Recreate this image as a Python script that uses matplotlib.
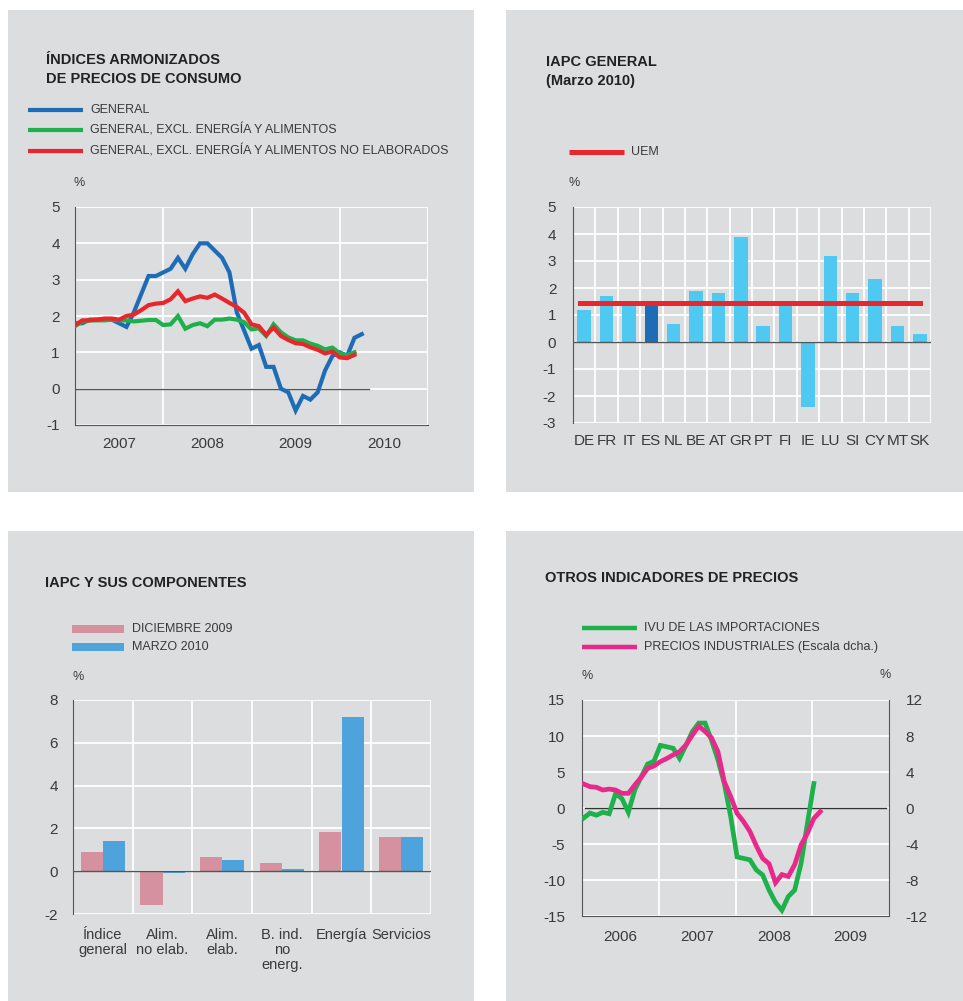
import matplotlib
matplotlib.use('Agg')
import matplotlib.pyplot as plt
from matplotlib.patches import Rectangle
from matplotlib.lines import Line2D
import numpy as np

plt.rcParams['font.family'] = ['Liberation Sans', 'DejaVu Sans']
plt.rcParams['axes.unicode_minus'] = False

# ---------------- DATA ----------------
# Chart 1: HICP (monthly from Jan 2007)
hicp_general = [1.8, 1.8, 1.9, 1.9, 1.9, 1.9, 1.8, 1.7, 2.1, 2.6, 3.1, 3.1,
                3.2, 3.3, 3.6, 3.3, 3.7, 4.0, 4.0, 3.8, 3.6, 3.2, 2.1, 1.6,
                1.1, 1.2, 0.6, 0.6, 0.0, -0.1, -0.6, -0.2, -0.3, -0.1, 0.5, 0.9,
                1.0, 0.9, 1.4, 1.5]
hicp_excl_energy_food = [1.72, 1.85, 1.88, 1.88, 1.88, 1.90, 1.88, 1.88, 1.85, 1.87, 1.89, 1.89,
                         1.75, 1.77, 2.00, 1.65, 1.75, 1.80, 1.72, 1.90, 1.90, 1.93, 1.90, 1.83,
                         1.63, 1.66, 1.45, 1.77, 1.55, 1.41, 1.33, 1.33, 1.24, 1.18, 1.08, 1.13,
                         0.97, 0.92, 1.00]
hicp_excl_energy_unproc = [1.75, 1.88, 1.88, 1.90, 1.93, 1.93, 1.90, 2.00, 2.04, 2.16, 2.30, 2.34,
                           2.36, 2.46, 2.68, 2.41, 2.48, 2.54, 2.50, 2.59, 2.48, 2.36, 2.25, 2.09,
                           1.77, 1.72, 1.48, 1.68, 1.45, 1.34, 1.25, 1.23, 1.14, 1.07, 0.97, 1.02,
                           0.86, 0.84, 0.93]
chart1_start_year = 2007
chart1_years = ['2007', '2008', '2009', '2010']

# Chart 2: HICP by country, March 2010
countries = ['DE', 'FR', 'IT', 'ES', 'NL', 'BE', 'AT', 'GR', 'PT', 'FI', 'IE', 'LU', 'SI', 'CY', 'MT', 'SK']
country_values = [1.2, 1.7, 1.4, 1.4, 0.65, 1.9, 1.8, 3.9, 0.6, 1.4, -2.4, 3.2, 1.8, 2.35, 0.6, 0.3]
uem_value = 1.45
highlight_country = 'ES'

# Chart 3: HICP components
components = ['Índice\ngeneral', 'Alim.\nno elab.', 'Alim.\nelab.', 'B. ind.\nno\nenerg.', 'Energía', 'Servicios']
dic_2009 = [0.92, -1.56, 0.68, 0.39, 1.85, 1.62]
mar_2010 = [1.43, -0.09, 0.54, 0.11, 7.22, 1.59]

# Chart 4: other price indicators (monthly from Jan 2006)
ivu_importaciones = [-1.4, -0.7, -1.0, -0.6, -0.8, 2.0, 1.3, -0.6, 2.5, 4.3, 6.1, 6.5,
                     8.7, 8.5, 8.3, 6.9, 8.7, 10.6, 11.8, 11.8, 9.4, 6.7, 3.4, -1.2,
                     -6.8, -7.0, -7.2, -8.6, -9.3, -11.4, -13.1, -14.2, -12.3, -11.4, -7.7, -2.1,
                     3.4]
precios_industriales = [2.67, 2.37, 2.3, 2.0, 2.1, 2.0, 1.63, 1.63, 2.55, 3.4, 4.4, 4.67,
                        5.15, 5.5, 5.9, 6.26, 7.0, 8.1, 9.1, 8.5, 7.8, 6.26, 2.9, 1.26,
                        -0.6, -1.5, -2.6, -4.2, -5.6, -6.2, -8.3, -7.4, -7.6, -6.3, -4.1, -2.8,
                        -1.15, -0.4]
chart4_start_year = 2006
chart4_years = ['2006', '2007', '2008', '2009']

# ---------------- STYLE ----------------
W, H = 963, 1001
PANEL = '#dcdddf'
TXT = '#3a3a3a'
DARK = '#555555'
BLUE = '#1f6cb6'
GREEN = '#1eb04b'
RED = '#e8262b'
LIGHTBLUE = '#4fc9f2'
PINK = '#d5919f'
MBLUE = '#4ea3dc'
MAGENTA = '#e8288a'

fig = plt.figure(figsize=(W / 100, H / 100), dpi=100, facecolor='white')

bg = fig.add_axes([0, 0, 1, 1], zorder=0)
bg.set_xlim(0, W)
bg.set_ylim(H, 0)
bg.axis('off')

for (x0, y0, x1, y1) in [(8, 10, 474, 492), (506, 10, 963, 492), (8, 531, 474, 1001), (506, 531, 963, 1001)]:
    bg.add_patch(Rectangle((x0, y0), x1 - x0, y1 - y0, facecolor=PANEL, edgecolor='none'))


def px_axes(x0, y0, x1, y1):
    ax = fig.add_axes([x0 / W, 1 - y1 / H, (x1 - x0) / W, (y1 - y0) / H], zorder=1)
    ax.set_facecolor('none')
    ax.set_axisbelow(True)
    for s in ax.spines.values():
        s.set_visible(False)
    return ax


def title(x, y, lines):
    for i, t in enumerate(lines):
        bg.text(x, y + i * 19.5, t, fontsize=10.5, fontweight='bold', color='#222222', va='baseline', ha='left')


def legend_line(x0, x1, y, color, label, lw=3.0):
    bg.add_line(Line2D([x0, x1], [y, y], color=color, lw=lw, solid_capstyle='butt'))
    bg.text(x1 + 7, y, label, fontsize=9, color=TXT, va='center', ha='left')


def legend_box(x0, x1, y, color, label):
    bg.add_patch(Rectangle((x0, y - 4), x1 - x0, 8, facecolor=color, edgecolor='none'))
    bg.text(x1 + 8, y, label, fontsize=9, color=TXT, va='center', ha='left')


def pct(x, y):
    bg.text(x, y, '%', fontsize=9, color=TXT, va='center', ha='center')


GRID = dict(color='white', lw=1.3)

# ---------------- CHART 1 ----------------
title(46, 63.5, ['ÍNDICES ARMONIZADOS', 'DE PRECIOS DE CONSUMO'])
legend_line(28, 83, 110, BLUE, 'GENERAL')
legend_line(28, 83, 130, GREEN, 'GENERAL, EXCL. ENERGÍA Y ALIMENTOS')
legend_line(28, 83, 151, RED, 'GENERAL, EXCL. ENERGÍA Y ALIMENTOS NO ELABORADOS')
pct(79, 183)

ax1 = px_axes(75, 207, 428, 425)
x_gen = chart1_start_year + np.arange(len(hicp_general)) / 12
x_core = chart1_start_year + np.arange(len(hicp_excl_energy_food)) / 12
ax1.plot(x_gen, hicp_general, color=BLUE, lw=3.0, solid_joinstyle='miter', zorder=3)
ax1.plot(x_core, hicp_excl_energy_food, color=GREEN, lw=3.0, solid_joinstyle='miter', zorder=4)
ax1.plot(x_core, hicp_excl_energy_unproc, color=RED, lw=3.0, solid_joinstyle='miter', zorder=5)
ax1.set_xlim(2007, 2011)
ax1.set_ylim(-1, 5)
ax1.set_yticks(range(-1, 6))
ax1.set_xticks([2008, 2009, 2010, 2011])
ax1.set_xticklabels([])
ax1.set_xticks([2007.5 + i for i in range(4)], minor=True)
ax1.set_xticklabels(chart1_years, minor=True)
ax1.tick_params(which='both', length=0, labelsize=11, colors=TXT)
ax1.tick_params(axis='y', pad=11)
ax1.tick_params(axis='x', which='minor', pad=9)
ax1.grid(True, axis='y', **GRID)
ax1.grid(True, axis='x', which='major', **GRID)
ax1.axhline(0, xmin=0, xmax=(2010.33 - 2007) / 4, color=DARK, lw=1.0, zorder=2)
ax1.spines['left'].set_visible(True)
ax1.spines['left'].set_color(DARK)
ax1.spines['bottom'].set_visible(True)
ax1.spines['bottom'].set_color(DARK)

# ---------------- CHART 2 ----------------
title(546, 66, ['IAPC GENERAL', '(Marzo 2010)'])
legend_line(569, 624, 152, RED, 'UEM', lw=3.6)
pct(574, 183)

ax2 = px_axes(573, 207, 931, 423)
xc = np.arange(len(countries))
bar_colors = [BLUE if c == highlight_country else LIGHTBLUE for c in countries]
ax2.bar(xc, country_values, width=0.6, color=bar_colors, zorder=3)
ax2.axhline(0, color=DARK, lw=1.0, zorder=4)
ax2.axhline(uem_value, xmin=0.02, xmax=0.97, color=RED, lw=3.6, zorder=5)
ax2.set_xlim(-0.5, len(countries) - 0.5)
ax2.set_ylim(-3, 5)
ax2.set_yticks(range(-3, 6))
ax2.set_xticks(xc)
ax2.set_xticklabels(countries)
ax2.set_xticks(np.arange(-0.5, len(countries)), minor=True)
ax2.tick_params(which='both', length=0, labelsize=11, colors=TXT)
ax2.tick_params(axis='y', pad=12)
ax2.tick_params(axis='x', pad=8)
ax2.grid(True, axis='y', **GRID)
ax2.grid(True, axis='x', which='minor', **GRID)
ax2.spines['left'].set_visible(True)
ax2.spines['left'].set_color(DARK)

# ---------------- CHART 3 ----------------
title(45, 587, ['IAPC Y SUS COMPONENTES'])
legend_box(72, 124, 629, PINK, 'DICIEMBRE 2009')
legend_box(72, 124, 647, MBLUE, 'MARZO 2010')
pct(78, 677)

ax3 = px_axes(73, 700, 431, 914)
xk = np.arange(len(components))
bw = 0.37
ax3.bar(xk - bw / 2, dic_2009, width=bw, color=PINK, zorder=3)
ax3.bar(xk + bw / 2, mar_2010, width=bw, color=MBLUE, zorder=3)
ax3.axhline(0, color=DARK, lw=1.0, zorder=4)
ax3.set_xlim(-0.5, len(components) - 0.5)
ax3.set_ylim(-2, 8)
ax3.set_yticks(range(-2, 9, 2))
ax3.set_xticks(xk)
ax3.set_xticklabels(components, linespacing=1.1, va='top')
ax3.set_xticks(np.arange(-0.5, len(components)), minor=True)
ax3.tick_params(which='both', length=0, labelsize=10.5, colors=TXT)
ax3.tick_params(axis='y', labelsize=11, pad=11)
ax3.tick_params(axis='x', pad=10)
ax3.grid(True, axis='y', **GRID)
ax3.grid(True, axis='x', which='minor', **GRID)
ax3.spines['left'].set_visible(True)
ax3.spines['left'].set_color(DARK)

# ---------------- CHART 4 ----------------
title(545, 582, ['OTROS INDICADORES DE PRECIOS'])
legend_line(582, 637, 628, GREEN, 'IVU DE LAS IMPORTACIONES', lw=3.2)
legend_line(582, 637, 647, MAGENTA, 'PRECIOS INDUSTRIALES (Escala dcha.)', lw=3.2)
pct(587, 676)
pct(885, 675)

ax4 = px_axes(582, 700, 889, 916)
ax4r = ax4.twinx()
ax4r.set_facecolor('none')
for s in ax4r.spines.values():
    s.set_visible(False)
x_ivu = chart4_start_year + (np.arange(len(ivu_importaciones)) + 0.25) / 12
x_pi = chart4_start_year + (np.arange(len(precios_industriales)) + 0.25) / 12
ax4.plot(x_ivu, ivu_importaciones, color=GREEN, lw=3.4, solid_joinstyle='miter', zorder=3)
ax4r.plot(x_pi, precios_industriales, color=MAGENTA, lw=3.4, solid_joinstyle='miter', zorder=3)
ax4.axhline(0, xmin=0.01, xmax=0.99, color='#333333', lw=1.0, zorder=2)
ax4.set_xlim(2006, 2010)
ax4.set_ylim(-15, 15)
ax4r.set_ylim(-12, 12)
ax4.set_yticks(range(-15, 16, 5))
ax4r.set_yticks(range(-12, 13, 4))
ax4.set_xticks([2007, 2008, 2009])
ax4.set_xticklabels([])
ax4.set_xticks([2006.5 + i for i in range(4)], minor=True)
ax4.set_xticklabels(chart4_years, minor=True)
ax4.tick_params(which='both', length=0, labelsize=11, colors=TXT)
ax4.tick_params(axis='y', pad=12)
ax4.tick_params(axis='x', which='minor', pad=10)
ax4r.tick_params(length=0, labelsize=11, colors=TXT, pad=12)
ax4.grid(True, axis='y', **GRID)
ax4.grid(True, axis='x', which='major', **GRID)
for side in ['left', 'bottom']:
    ax4.spines[side].set_visible(True)
    ax4.spines[side].set_color(DARK)
ax4r.spines['right'].set_visible(True)
ax4r.spines['right'].set_color(DARK)

fig.savefig('out.png', dpi=100, facecolor='white')
